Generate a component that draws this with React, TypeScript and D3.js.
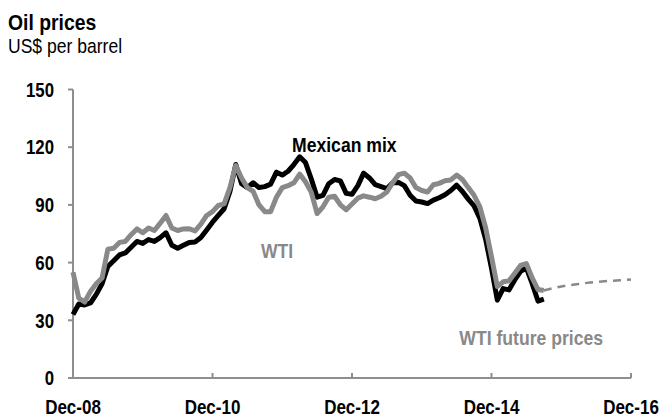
import React from "react";
import * as d3 from "d3";

const title = "Oil prices";
const subtitle = "US$ per barrel";
const yTicks = [0, 30, 60, 90, 120, 150];
const xTickLabels = ["Dec-08", "Dec-10", "Dec-12", "Dec-14", "Dec-16"];
const xTickMonths = [0, 24, 48, 72, 96];

// Monthly, starting Dec-08
const mexicanMix = [
  33, 38.5, 38, 39, 43.5, 49, 58, 61, 64, 65, 68, 71, 70, 72, 71, 73, 75.5, 69, 67.5, 69,
  70.5, 70.7, 73, 77, 81, 84.5, 88, 97, 111, 101, 99, 101.5, 99, 99.5, 100.8, 107, 105.5, 107.5, 111, 115,
  112, 103.4, 94, 95, 101, 103.2, 102.5, 96, 95.5, 100, 106.5, 104, 100.5, 99.5, 98.5, 101.5, 101.7, 100, 95, 92,
  91.5, 90.7, 92.5, 93.7, 95.3, 97.5, 100.3, 97, 93, 89.5, 83, 72, 57, 40.5, 46.5, 45.8, 51, 55.5, 57.2, 49,
  40, 41,
];

const wti = [
  55, 41.5, 39.5, 45, 49, 52, 67, 67.5, 70.5, 71, 74.5, 77.5, 75.5, 78, 76.7, 80.5, 84.5, 78, 76.7, 77.5,
  77.6, 76.5, 80, 84.5, 86.5, 89.7, 90.5, 99, 110.5, 104, 99, 97, 90, 86.5, 86.5, 94, 99, 100, 101.5, 106,
  102, 96.5, 85.5, 89, 94, 94.5, 90, 87.5, 90.5, 93.5, 94.7, 94, 93.2, 94.5, 96.7, 101.5, 105.7, 106.5, 104, 99,
  97.5, 96.7, 100.5, 101.2, 102.6, 103, 105.5, 103.2, 99, 95, 89, 78, 63, 47.5, 50, 50.5, 54.5, 58.5, 59.5, 52,
  46, 45.5,
];

// WTI futures, monthly from Sep-15 to Dec-16
const futureStartMonth = 81;
const wtiFutures = [45.5, 46.3, 47.0, 47.6, 48.1, 48.5, 48.9, 49.3, 49.6, 49.9, 50.2, 50.4, 50.6, 50.8, 51.0, 51.2];

const FONT = "'Liberation Sans', Arial, sans-serif";
const GRAY = "#898989";
const AXIS = "#8e8e8e";

function NText(props: {
  x: number;
  y: number;
  sx: number;
  size: number;
  bold?: boolean;
  fill?: string;
  anchor?: string;
  dy?: string;
  children: React.ReactNode;
}) {
  const { x, y, sx, size, bold, fill, anchor, dy, children } = props;
  return (
    <text
      transform={`translate(${x},${y}) scale(${sx},1)`}
      fontSize={size}
      fontWeight={bold ? "bold" : "normal"}
      fill={fill || "#000"}
      textAnchor={anchor || "start"}
      dy={dy}
    >
      {children}
    </text>
  );
}

export default function App() {
  const width = 663;
  const height = 417;
  const x = d3.scaleLinear().domain([0, 96]).range([73, 631]);
  const y = d3.scaleLinear().domain([0, 150]).range([378, 89.5]);

  const line = d3
    .line<[number, number]>()
    .x((d) => x(d[0]))
    .y((d) => y(d[1]))
    .curve(d3.curveLinear);

  const mexPts = mexicanMix.map((v, i) => [i, v] as [number, number]);
  const wtiPts = wti.map((v, i) => [i, v] as [number, number]);
  const futPts = wtiFutures.map((v, i) => [futureStartMonth + i, v] as [number, number]);

  return (
    <svg
      width={width}
      height={height}
      style={{ position: "absolute", left: 0, top: 0, background: "#fff" }}
      fontFamily={FONT}
    >
      <NText x={8} y={30} sx={0.88} size={22} bold>
        {title}
      </NText>
      <NText x={8} y={53} sx={0.9} size={19.5}>
        {subtitle}
      </NText>

      {/* Y axis */}
      <line x1={x(0)} x2={x(0)} y1={y(150)} y2={y(0)} stroke={AXIS} strokeWidth={2} />
      {yTicks.map((t) => (
        <g key={t}>
          <line x1={x(0) - 5} x2={x(0)} y1={y(t)} y2={y(t)} stroke={AXIS} strokeWidth={2} />
          <NText x={54} y={y(t)} dy="0.36em" anchor="end" sx={0.84} size={20} bold>
            {t}
          </NText>
        </g>
      ))}

      {/* X axis */}
      <line x1={x(0) - 5} x2={x(96)} y1={y(0)} y2={y(0)} stroke={AXIS} strokeWidth={2} />
      {xTickMonths.map((m, i) => (
        <g key={m}>
          <line x1={x(m)} x2={x(m)} y1={y(0)} y2={y(0) - 5} stroke={AXIS} strokeWidth={2} />
          <NText x={x(m)} y={414} anchor="middle" sx={0.85} size={20} bold>
            {xTickLabels[i]}
          </NText>
        </g>
      ))}

      {/* Series */}
      <path d={line(mexPts) || ""} fill="none" stroke="#000" strokeWidth={5} strokeLinejoin="round" />
      <path d={line(wtiPts) || ""} fill="none" stroke={GRAY} strokeWidth={5} strokeLinejoin="round" />
      <path
        d={line(futPts) || ""}
        fill="none"
        stroke={GRAY}
        strokeWidth={2.5}
        strokeDasharray="8,6"
      />

      {/* Labels */}
      <NText x={292} y={152} sx={0.88} size={20} bold>
        Mexican mix
      </NText>
      <NText x={261} y={258} sx={0.88} size={20} bold fill={GRAY}>
        WTI
      </NText>
      <NText x={603} y={345} anchor="end" sx={0.88} size={20} bold fill={GRAY}>
        WTI future prices
      </NText>
    </svg>
  );
}
